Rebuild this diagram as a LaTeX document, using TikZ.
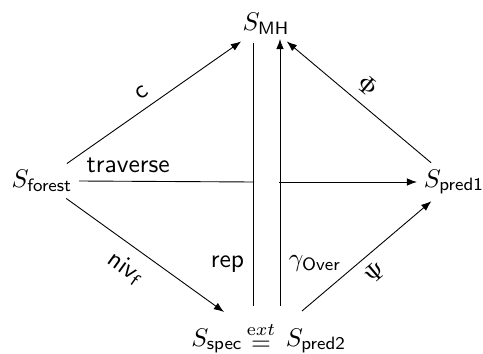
\documentclass[tikz,border=0pt]{standalone}
\usetikzlibrary{arrows.meta}
\begin{document}
\begin{tikzpicture}[x=0.392pt,y=-0.392pt,line width=0.35pt,
  obj/.style={inner sep=2.5pt},
  tight/.style={inner sep=1pt},
  arr/.style={-{Latex[length=4pt,width=3pt]}},
  lab/.style={font=\sffamily}]
\useasboundingbox (0,0) rectangle (483,354);
\node[obj] (MH) at (266,24) {$S_{\mathsf{MH}}$};
\node[obj] (forest) at (42,181) {$S_{\mathsf{forest}}$};
\node[obj] (pred1) at (454,182) {$S_{\mathsf{pred1}}$};
\node[tight] (spec) at (217,341) {$S_{\mathsf{spec}}$};
\node[tight] (eq) at (261,336) {$\stackrel{\mathrm{e}xt}{=}$};
\node[tight] (pred2) at (316,341) {$S_{\mathsf{pred2}}$};
\coordinate (lb) at (253,306);
\coordinate (lt) at (253,43);
\coordinate (rb) at (280,306);
\coordinate (rt) at (280,39);
\coordinate (hl) at (254,182);
\coordinate (hr) at (279,182);
\coordinate (se) at (224,312);
\coordinate (p2) at (302,311);
\draw[arr] (forest) -- node[pos=0.48,above,sloped,lab] {c} (MH);
\draw[arr] (pred1) -- node[pos=0.52,above,sloped] {$\Phi$} (MH);
\draw (forest.east) -- node[pos=0.28,above,lab] {traverse} (hl);
\draw[arr] (hr) -- (pred1.west);
\draw[arr] (forest) -- node[pos=0.46,below=1pt,sloped] {$\mathsf{niv}_{\mathsf{f}}$} (se);
\draw[arr] (p2) -- node[pos=0.47,below,sloped] {$\Psi$} (pred1);
\draw (lb) -- node[pos=0.16,left,lab] {rep} (lt);
\draw[arr] (rb) -- node[pos=0.16,right] {$\gamma_{\mathsf{Over}}$} (rt);
\end{tikzpicture}
\end{document}
